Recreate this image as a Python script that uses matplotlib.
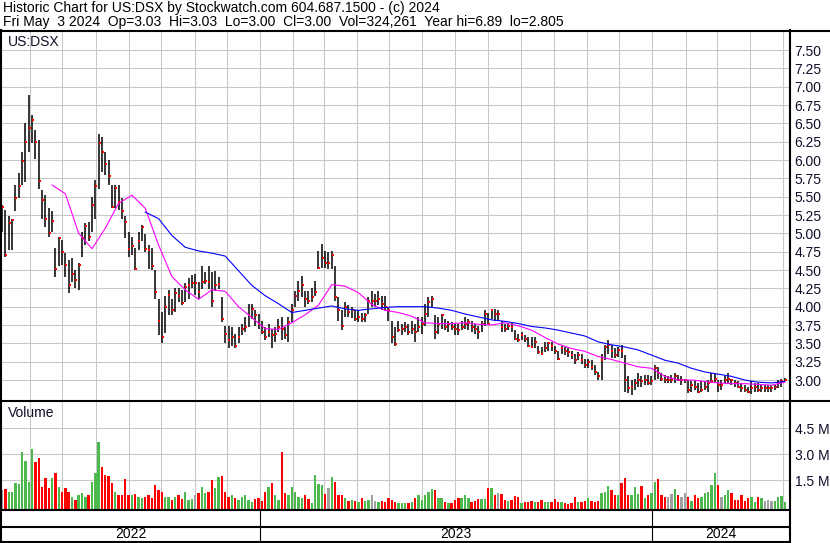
import numpy as np
import matplotlib
matplotlib.use("Agg")
import matplotlib.pyplot as plt
import matplotlib.dates as mdates
from matplotlib.lines import Line2D

W, H = 830, 543
plt.rcParams['font.family'] = ['Liberation Sans', 'DejaVu Sans']

# --- data (2-day bars) ---
first_day = '2022-05-06'
last_day = '2024-05-03'

highs = [5.39, 5.32, 5.23, 5.20, 5.66, 5.82, 6.11, 6.50, 6.89, 6.61,
         6.41, 6.27, 5.59, 5.52, 5.34, 5.30, 4.80, 4.95, 4.91, 4.73,
         4.64, 4.66, 4.50, 4.59, 5.02, 5.14, 5.16, 5.50, 5.73, 6.36,
         6.32, 6.11, 6.00, 5.66, 5.66, 5.66, 5.48, 5.23, 5.02, 4.95,
         4.80, 5.02, 5.11, 4.99, 4.84, 4.80, 4.50, 4.11, 3.93, 4.14,
         4.23, 4.11, 4.25, 4.25, 4.23, 4.32, 4.39, 4.43, 4.45, 4.34,
         4.56, 4.47, 4.56, 4.47, 4.49, 4.40, 4.13, 3.74, 3.74, 3.72,
         3.63, 3.72, 3.77, 3.86, 4.04, 4.04, 3.95, 3.90, 3.81, 3.72,
         3.77, 3.70, 3.72, 3.83, 3.86, 3.72, 3.86, 4.04, 4.22, 4.35,
         4.42, 4.22, 4.22, 4.26, 4.35, 4.76, 4.85, 4.76, 4.74, 4.76,
         4.56, 4.13, 3.95, 4.06, 4.02, 4.00, 3.95, 3.95, 3.92, 3.92,
         4.13, 4.22, 4.17, 4.22, 4.15, 4.15, 4.00, 3.81, 3.72, 3.81,
         3.77, 3.79, 3.77, 3.81, 3.77, 3.86, 3.86, 4.04, 4.13, 4.15,
         3.88, 3.86, 3.90, 3.83, 3.81, 3.79, 3.77, 3.77, 3.81, 3.86,
         3.83, 3.81, 3.77, 3.74, 3.81, 3.95, 3.92, 3.97, 3.97, 3.95,
         3.81, 3.77, 3.77, 3.79, 3.68, 3.63, 3.65, 3.61, 3.59, 3.58,
         3.59, 3.47, 3.45, 3.52, 3.52, 3.52, 3.47, 3.40, 3.47, 3.45,
         3.43, 3.40, 3.36, 3.38, 3.36, 3.29, 3.29, 3.27, 3.20, 3.11,
         3.36, 3.48, 3.54, 3.48, 3.43, 3.45, 3.48, 3.34, 3.05, 3.00,
         3.02, 3.09, 3.05, 3.07, 3.07, 3.05, 3.20, 3.18, 3.09, 3.07,
         3.05, 3.07, 3.09, 3.07, 3.05, 3.02, 3.00, 2.98, 2.98, 2.96,
         2.98, 2.98, 3.00, 3.09, 3.09, 3.00, 3.00, 3.05, 3.09, 3.02,
         3.00, 2.98, 2.96, 2.93, 2.91, 2.98, 2.96, 2.96, 2.93, 2.93,
         2.93, 2.93, 2.93, 3.00, 3.02, 3.03]

lows = [5.02, 4.68, 4.77, 4.77, 5.30, 5.48, 5.66, 5.70, 6.11, 6.23,
        6.02, 5.61, 5.20, 5.09, 4.95, 5.02, 4.41, 4.55, 4.57, 4.41,
        4.18, 4.34, 4.25, 4.23, 4.68, 4.84, 4.89, 5.02, 5.20, 5.61,
        5.84, 5.80, 5.66, 5.34, 5.34, 5.32, 5.20, 4.93, 4.68, 4.70,
        4.50, 4.77, 4.89, 4.75, 4.52, 4.50, 4.11, 3.61, 3.50, 3.64,
        3.89, 3.89, 3.93, 4.07, 4.02, 4.07, 4.11, 4.25, 4.16, 4.11,
        4.24, 4.31, 4.24, 3.99, 4.22, 4.24, 3.79, 3.50, 3.43, 3.46,
        3.43, 3.50, 3.61, 3.65, 3.72, 3.83, 3.74, 3.70, 3.63, 3.54,
        3.59, 3.43, 3.52, 3.65, 3.54, 3.56, 3.52, 3.79, 3.99, 4.08,
        4.13, 3.99, 4.04, 4.06, 4.15, 4.51, 4.53, 4.53, 4.51, 4.51,
        4.08, 3.81, 3.68, 3.86, 3.86, 3.84, 3.81, 3.79, 3.79, 3.79,
        3.90, 3.99, 3.99, 4.02, 3.95, 3.95, 3.81, 3.50, 3.47, 3.65,
        3.61, 3.65, 3.61, 3.63, 3.52, 3.65, 3.63, 3.74, 3.86, 3.99,
        3.56, 3.63, 3.70, 3.68, 3.65, 3.68, 3.61, 3.61, 3.68, 3.70,
        3.68, 3.65, 3.63, 3.56, 3.65, 3.74, 3.77, 3.83, 3.81, 3.81,
        3.65, 3.65, 3.68, 3.65, 3.54, 3.52, 3.54, 3.52, 3.45, 3.43,
        3.43, 3.36, 3.34, 3.38, 3.40, 3.40, 3.36, 3.27, 3.36, 3.34,
        3.31, 3.29, 3.22, 3.27, 3.22, 3.16, 3.16, 3.14, 3.07, 3.00,
        3.00, 3.27, 3.36, 3.30, 3.30, 3.32, 3.30, 2.84, 2.82, 2.80,
        2.86, 2.91, 2.91, 2.93, 2.93, 2.93, 3.00, 3.02, 2.98, 2.96,
        2.96, 2.96, 2.96, 2.98, 2.93, 2.96, 2.82, 2.84, 2.86, 2.82,
        2.84, 2.86, 2.84, 2.96, 2.96, 2.84, 2.86, 2.96, 2.96, 2.93,
        2.91, 2.89, 2.84, 2.84, 2.82, 2.805, 2.84, 2.84, 2.84, 2.84,
        2.84, 2.84, 2.86, 2.89, 2.91, 2.98]

closes = [5.36, 4.70, 5.14, 5.18, 5.48, 5.64, 5.98, 6.25, 6.43, 6.55,
          6.25, 5.71, 5.45, 5.20, 5.01, 5.17, 4.51, 4.93, 4.75, 4.57,
          4.29, 4.45, 4.36, 4.57, 4.93, 5.10, 4.95, 5.39, 5.65, 6.23,
          6.11, 5.95, 5.78, 5.36, 5.62, 5.43, 5.30, 5.15, 4.78, 4.83,
          4.52, 4.89, 5.09, 4.79, 4.77, 4.55, 4.20, 3.80, 3.59, 4.00,
          4.16, 3.95, 4.18, 4.14, 4.05, 4.27, 4.30, 4.32, 4.32, 4.20,
          4.33, 4.35, 4.33, 4.08, 4.29, 4.31, 3.83, 3.63, 3.54, 3.58,
          3.47, 3.59, 3.70, 3.72, 3.88, 3.97, 3.88, 3.77, 3.65, 3.59,
          3.65, 3.61, 3.63, 3.72, 3.70, 3.61, 3.79, 3.95, 4.15, 4.22,
          4.29, 4.11, 4.08, 4.13, 4.20, 4.53, 4.67, 4.60, 4.60, 4.71,
          4.13, 3.95, 3.74, 4.00, 3.93, 3.95, 3.83, 3.86, 3.83, 3.88,
          4.08, 4.08, 4.08, 4.11, 4.04, 4.00, 3.95, 3.59, 3.49, 3.68,
          3.70, 3.72, 3.65, 3.70, 3.65, 3.72, 3.77, 3.90, 4.06, 4.11,
          3.65, 3.77, 3.88, 3.72, 3.77, 3.72, 3.70, 3.68, 3.72, 3.77,
          3.79, 3.72, 3.70, 3.65, 3.77, 3.90, 3.77, 3.95, 3.90, 3.90,
          3.72, 3.70, 3.74, 3.72, 3.56, 3.54, 3.61, 3.56, 3.47, 3.45,
          3.52, 3.38, 3.36, 3.43, 3.50, 3.47, 3.40, 3.29, 3.43, 3.40,
          3.38, 3.34, 3.27, 3.34, 3.27, 3.20, 3.24, 3.18, 3.11, 3.05,
          3.27, 3.45, 3.48, 3.39, 3.34, 3.41, 3.39, 3.00, 2.89, 2.91,
          2.96, 3.00, 2.98, 3.00, 2.96, 2.98, 3.16, 3.09, 3.02, 3.00,
          3.00, 3.00, 3.05, 3.00, 3.00, 3.00, 2.87, 2.93, 2.91, 2.84,
          2.87, 2.91, 2.96, 2.98, 3.02, 2.93, 2.93, 3.00, 3.02, 3.00,
          2.96, 2.91, 2.89, 2.87, 2.84, 2.89, 2.91, 2.87, 2.89, 2.89,
          2.89, 2.89, 2.91, 2.96, 2.98, 3.00]

# volume in millions of shares
volumes = [0.93, 0.98, 0.79, 0.83, 1.35, 1.25, 3.15, 2.63, 1.40, 3.28,
           2.57, 2.76, 1.11, 1.60, 1.02, 1.60, 1.89, 1.11, 0.83, 1.02,
           0.83, 0.54, 0.35, 0.64, 0.73, 0.54, 0.64, 1.40, 1.89, 3.73,
           2.28, 1.79, 1.73, 1.31, 0.83, 0.64, 0.64, 1.56, 0.64, 0.64,
           0.68, 0.54, 0.45, 0.54, 0.64, 0.45, 1.21, 0.93, 0.79, 0.54,
           0.54, 0.35, 0.54, 0.64, 0.41, 0.83, 0.35, 0.41, 0.64, 0.77,
           1.11, 0.73, 0.83, 1.50, 1.06, 1.70, 1.75, 0.83, 0.54, 0.64,
           0.45, 0.35, 0.54, 0.64, 0.35, 0.25, 0.41, 0.45, 0.29, 0.83,
           1.11, 1.31, 0.64, 0.35, 3.15, 0.73, 0.64, 1.11, 0.83, 0.54,
           0.45, 0.64, 0.41, 0.16, 1.79, 1.25, 1.21, 0.68, 1.02, 1.70,
           1.40, 0.64, 0.64, 0.45, 0.29, 0.35, 0.29, 0.25, 0.48, 0.29,
           0.35, 0.64, 0.29, 0.25, 0.29, 0.25, 0.45, 0.35, 0.25, 0.16,
           0.16, 0.16, 0.16, 0.25, 0.45, 0.64, 0.35, 0.64, 0.83, 0.96,
           0.93, 0.45, 0.45, 0.25, 0.16, 0.16, 0.35, 0.45, 0.45, 0.64,
           0.45, 0.21, 0.29, 0.41, 0.41, 0.41, 1.06, 1.02, 0.64, 0.73,
           0.68, 0.35, 0.29, 0.35, 0.60, 0.54, 0.16, 0.21, 0.21, 0.29,
           0.25, 0.25, 0.35, 0.21, 0.21, 0.25, 0.41, 0.25, 0.21, 0.16,
           0.10, 0.16, 0.54, 0.25, 0.21, 0.29, 0.48, 0.29, 0.21, 0.29,
           0.73, 0.83, 1.17, 0.93, 0.64, 0.64, 1.31, 1.64, 0.64, 0.64,
           1.11, 0.68, 1.17, 0.45, 0.64, 0.73, 1.37, 1.56, 0.64, 0.54,
           0.54, 0.68, 0.98, 0.64, 0.54, 0.73, 0.54, 0.29, 0.64, 0.45,
           0.54, 0.73, 0.83, 1.21, 1.89, 1.21, 0.54, 0.64, 0.93, 0.73,
           0.35, 0.35, 0.64, 0.29, 0.45, 0.54, 0.25, 0.54, 0.48, 0.29,
           0.35, 0.29, 0.29, 0.54, 0.60, 0.21]

# moving averages, one value every 4th bar
ma_step = 4
ma_short_start = 15
ma_short = [5.66, 5.54, 5.00, 4.79, 5.07, 5.41, 5.52, 5.34, 4.84, 4.41,
            4.23, 4.10, 4.23, 4.21, 4.00, 3.85, 3.70, 3.69, 3.78, 3.89,
            4.02, 4.30, 4.28, 4.19, 4.03, 3.95, 3.92, 3.87, 3.78, 3.77,
            3.77, 3.78, 3.76, 3.75, 3.78, 3.74, 3.68, 3.58, 3.49, 3.43,
            3.39, 3.32, 3.28, 3.23, 3.18, 3.16, 3.05, 3.00, 3.00, 2.98,
            2.96, 2.95, 2.95, 2.94, 2.93, 2.97]
ma_long_start = 43
ma_long = [5.29, 5.20, 4.97, 4.81, 4.76, 4.73, 4.69, 4.49, 4.29, 4.15,
           4.04, 3.92, 3.95, 3.98, 4.01, 3.97, 3.95, 3.97, 3.99, 4.00,
           4.00, 4.00, 3.98, 3.95, 3.90, 3.86, 3.82, 3.80, 3.77, 3.73,
           3.71, 3.68, 3.64, 3.60, 3.52, 3.48, 3.45, 3.41, 3.34, 3.27,
           3.23, 3.16, 3.11, 3.08, 3.05, 3.00, 2.97, 2.96, 2.98]

price_ticks = [3.00, 3.25, 3.50, 3.75, 4.00, 4.25, 4.50, 4.75, 5.00,
               5.25, 5.50, 5.75, 6.00, 6.25, 6.50, 6.75, 7.00, 7.25, 7.50]
vol_ticks = [1.5, 3.0, 4.5]
years = [2022, 2023, 2024]

title1 = "Historic Chart for US:DSX by Stockwatch.com 604.687.1500 - (c) 2024"
title2 = ("Fri May  3 2024  Op=3.03  Hi=3.03  Lo=3.00  Cl=3.00  "
          "Vol=324,261  Year hi=6.89  lo=2.805")

# --- layout helpers (pixel coords, origin top-left) ---
def box(x0, y0, x1, y1):
    return [x0 / W, 1 - y1 / H, (x1 - x0) / W, (y1 - y0) / H]

def fx(x):
    return x / W

def fy(y):
    return 1 - y / H

fig = plt.figure(figsize=(W / 100, H / 100), dpi=100)
fig.patch.set_facecolor('white')

dates = np.linspace(mdates.datestr2num(first_day), mdates.datestr2num(last_day), len(closes))
xlim = (mdates.datestr2num('2022-05-05'), mdates.datestr2num('2024-05-07'))
grid_c = '#c8c8c8'
txt_c = '#10102a'

ax = fig.add_axes(box(1, 31, 789, 400))
axv = fig.add_axes(box(1, 402, 789, 509))
axb = fig.add_axes(box(1, 511, 789, 541))

for a in (ax, axv, axb):
    a.set_xlim(xlim)
    for s in a.spines.values():
        s.set_visible(False)
    a.xaxis.set_major_locator(mdates.MonthLocator())
    a.tick_params(axis='x', length=0, labelbottom=False)

# price panel
ax.set_ylim(3 - 20 / 73.33, 3 + 349 / 73.33)
ax.grid(True, color=grid_c, lw=0.75)
ax.set_axisbelow(True)
ax.yaxis.tick_right()
ax.set_yticks(price_ticks)
ax.set_yticklabels([f"{t:.2f}" for t in price_ticks])
ax.tick_params(axis='y', length=0, pad=4, labelsize=10, labelcolor=txt_c)

ax.vlines(dates, lows, highs, color='black', lw=1.1)
ax.plot(dates + 0.8, closes, 's', color='#ff0000', ms=1.7, mew=0)
ax.plot(dates[ma_short_start::ma_step][:len(ma_short)], ma_short, color='#ff00ff', lw=0.8)
ax.plot(dates[ma_long_start::ma_step][:len(ma_long)], ma_long, color='#0000ff', lw=0.8)

# volume panel
prev = np.r_[closes[0], closes[:-1]]
cl = np.array(closes)
vcol = np.where(cl > prev, '#4db84d', np.where(cl < prev, '#ff0000', '#a0a0a0'))
vbot = -0.18
axv.set_ylim(vbot, 6.03)
axv.grid(True, color=grid_c, lw=0.75)
axv.set_axisbelow(True)
axv.bar(dates, np.array(volumes) - vbot, bottom=vbot, width=2.2, color=vcol, lw=0)
axv.yaxis.tick_right()
axv.set_yticks(vol_ticks)
axv.set_yticklabels([f"{t:.1f} M" for t in vol_ticks])
axv.tick_params(axis='y', length=0, pad=4, labelsize=10, labelcolor=txt_c)

# year band
axb.set_ylim(0, 1)
axb.set_yticks([])
for yr in years:
    start = mdates.datestr2num(f'{yr}-01-01')
    end = mdates.datestr2num(f'{yr + 1}-01-01')
    if start > xlim[0]:
        axb.axvline(start, color='black', lw=0.8)
    mid = (max(start, xlim[0]) + min(end, xlim[1])) / 2
    axb.text(mid, 0.23, str(yr), ha='center', va='center', fontsize=10, color='black')

# frame lines
def hline(y, x0, x1, lw=1.5):
    fig.add_artist(Line2D([fx(x0), fx(x1)], [fy(y), fy(y)], color='black', lw=lw))

def vline(x, y0, y1, lw=1.5):
    fig.add_artist(Line2D([fx(x), fx(x)], [fy(y0), fy(y1)], color='black', lw=lw))

hline(30.5, 0, 830)
hline(401, 0, 830)
hline(510, 0, 790)
hline(527, 0, 790)
hline(542, 0, 790)
vline(1, 30, 543)
vline(789.5, 30, 543)

# texts
fig.text(fx(3), fy(8), title1, fontsize=10, va='center', ha='left')
fig.text(fx(3), fy(22), title2, fontsize=10, va='center', ha='left')
fig.text(fx(8), fy(42), "US:DSX", fontsize=10, va='center', ha='left', color=txt_c)
fig.text(fx(8), fy(413), "Volume", fontsize=10, va='center', ha='left', color=txt_c)

fig.savefig('out.png', dpi=100)
